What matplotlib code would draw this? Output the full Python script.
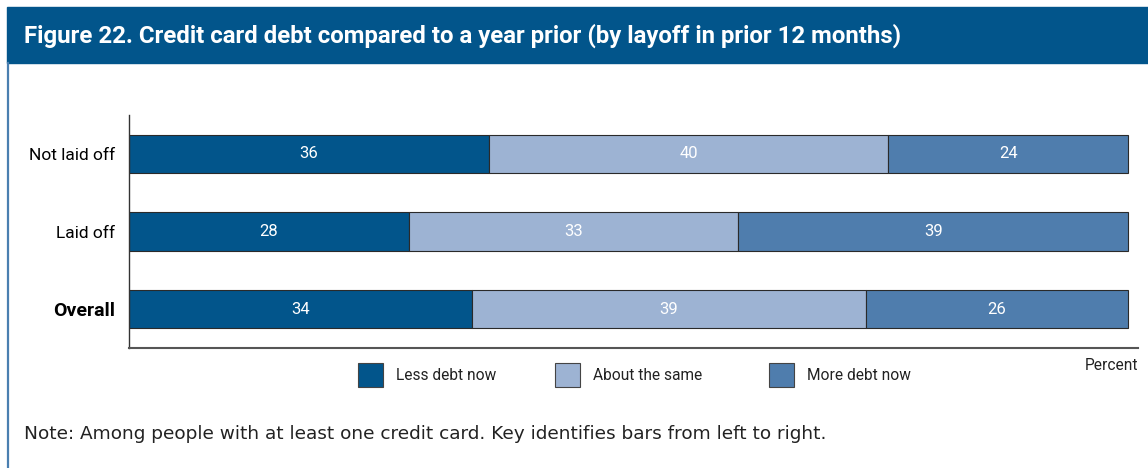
import matplotlib.pyplot as plt
from matplotlib.patches import Rectangle

groups = ["Not laid off", "Laid off", "Overall"]
less_debt = [36, 28, 34]
about_same = [40, 33, 39]
more_debt = [24, 39, 26]
series_names = ["Less debt now", "About the same", "More debt now"]
colors = ["#02558b", "#9db3d3", "#4f7dad"]

fig = plt.figure(figsize=(11.48, 4.68), dpi=100)
narrow = ["Roboto", "DejaVu Sans"]

# title banner and left frame line
fig.patches.append(Rectangle((7 / 1148, 1 - 63 / 468), 1, 56 / 468,
                             transform=fig.transFigure, color="#02558b", zorder=0))
fig.add_artist(plt.Line2D([8 / 1148, 8 / 1148], [0, 1 - 63 / 468],
                          transform=fig.transFigure, color="#4a7fb0", lw=1.6))
fig.text(24 / 1148, 1 - 36 / 468,
         "Figure 22. Credit card debt compared to a year prior (by layoff in prior 12 months)",
         color="white", fontsize=17.3, fontweight="bold", va="center", family=narrow)

ax = fig.add_axes([129 / 1148, 1 - 348 / 468, 1009 / 1148, 233 / 468])

rows = list(zip(less_debt, about_same, more_debt))
for i, row in enumerate(rows):
    total = sum(row)
    left = 0
    for j, v in enumerate(row):
        w = v / total * 100
        ax.barh(i, w, left=left, height=0.49, color=colors[j],
                edgecolor="#2a2a2a", linewidth=0.8)
        ax.text(left + w / 2, i, str(v), color="white", ha="center", va="center",
                fontsize=12, family=narrow)
        left += w

ax.set_xlim(0, 101)
ax.set_ylim(2.5, -0.5)
ax.set_yticks(range(len(groups)))
ax.set_yticklabels(groups, fontsize=12.5, family=narrow)
ax.get_yticklabels()[2].set_fontweight("bold")
ax.get_yticklabels()[2].set_fontsize(14)
ax.tick_params(axis="y", length=0, pad=10)
ax.set_xticks([])
for s in ["top", "right"]:
    ax.spines[s].set_visible(False)
ax.spines["left"].set_color("#333333")
ax.spines["bottom"].set_color("#555555")
ax.spines["left"].set_linewidth(1.0)
ax.spines["bottom"].set_linewidth(1.5)

# legend row
legend_x = [358, 555, 769]
for x, name, c in zip(legend_x, series_names, colors):
    fig.patches.append(Rectangle((x / 1148, 1 - 387 / 468), 25 / 1148, 24 / 468,
                                 transform=fig.transFigure, facecolor=c,
                                 edgecolor="#444444", linewidth=0.8))
    fig.text((x + 38) / 1148, 1 - 376 / 468, name, fontsize=11.2, va="center",
             family=narrow, color="#222222")
fig.text(1138 / 1148, 1 - 366 / 468, "Percent", fontsize=11.2, ha="right", va="center",
         family=narrow, color="#222222")

fig.text(24 / 1148, 1 - 434 / 468,
         "Note: Among people with at least one credit card. Key identifies bars from left to right.",
         fontsize=13.3, va="center", color="#222222", family="DejaVu Sans")

fig.savefig("out.png", dpi=100)
